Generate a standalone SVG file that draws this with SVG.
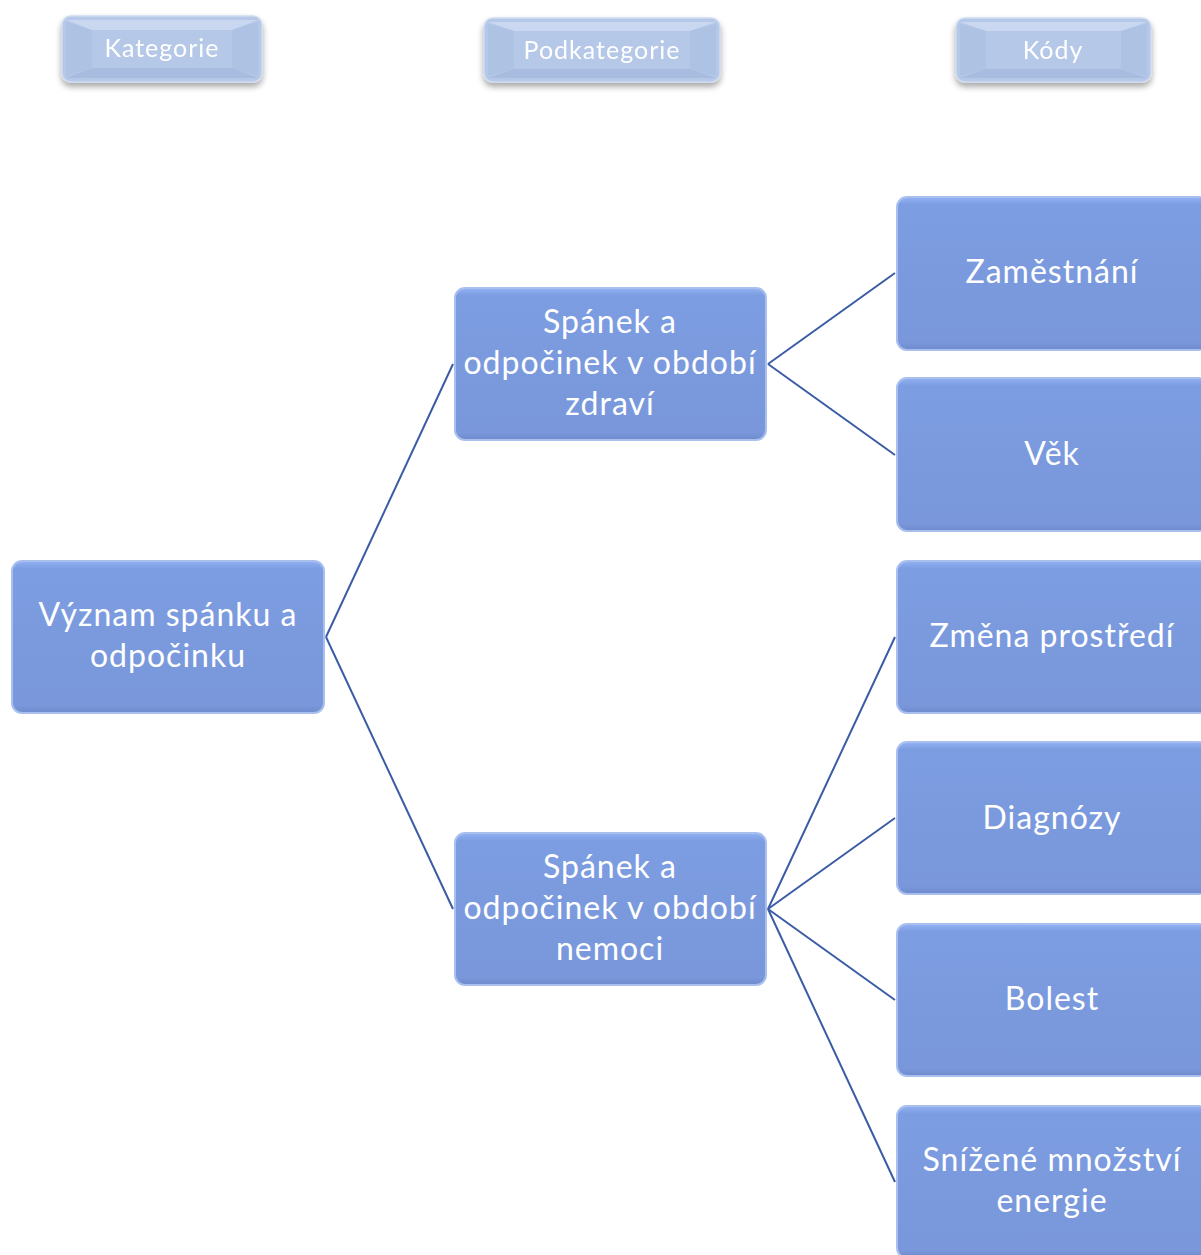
<svg xmlns="http://www.w3.org/2000/svg" width="1201" height="1255" viewBox="0 0 1201 1255">
<style>
.node rect.b{fill:url(#nodeFill);stroke:#a9c0ef;stroke-width:2}
.node text{font-family:Lato,"Open Sans",sans-serif;font-size:32px;letter-spacing:1px;fill:#ffffff;text-anchor:middle}
.hdr rect.b{fill:#b5c8e8;stroke:#cfdbef;stroke-width:1.5}
.hdr .top{fill:#c9d8f0}
.hdr .bot{fill:#a8bce0}
.hdr .side{fill:#aec2e4}
.hdr text{font-family:Lato,"Open Sans",sans-serif;font-size:25px;letter-spacing:1px;fill:#ffffff;text-anchor:middle}
#connectors line{stroke:#3b5ca5;stroke-width:2}
</style>
<defs>
<linearGradient id="nodeFill" x1="0" y1="0" x2="0" y2="1">
<stop offset="0" stop-color="#93b2f5"/>
<stop offset="0.05" stop-color="#7d9de2"/>
<stop offset="0.95" stop-color="#7997da"/>
<stop offset="1" stop-color="#6d8bcc"/>
</linearGradient>
<filter id="sh" x="-10%" y="-10%" width="120%" height="140%">
<feGaussianBlur in="SourceAlpha" stdDeviation="3"/>
<feOffset dy="4"/>
<feComponentTransfer><feFuncA type="linear" slope="0.35"/></feComponentTransfer>
<feMerge><feMergeNode/><feMergeNode in="SourceGraphic"/></feMerge>
</filter>
</defs>
<rect width="1201" height="1255" fill="#ffffff"/>

<g id="hdr-kategorie" class="hdr" filter="url(#sh)">
<rect class="b" x="62" y="16" width="200" height="66" rx="9"/>
<polygon class="top" points="66,20 258,20 232,30 92,30"/>
<polygon class="bot" points="66,78 258,78 232,68 92,68"/>
<polygon class="side" points="66,22 92,30 92,68 66,76"/>
<polygon class="side" points="258,22 232,30 232,68 258,76"/>
<text x="162" y="57">Kategorie</text>
</g>
<g id="hdr-podkategorie" class="hdr" filter="url(#sh)">
<rect class="b" x="484" y="18" width="236" height="64" rx="9"/>
<polygon class="top" points="488,22 716,22 690,31 514,31"/>
<polygon class="bot" points="488,78 716,78 690,69 514,69"/>
<polygon class="side" points="488,24 514,31 514,69 488,76"/>
<polygon class="side" points="716,24 690,31 690,69 716,76"/>
<text x="602" y="59">Podkategorie</text>
</g>
<g id="hdr-kody" class="hdr" filter="url(#sh)">
<rect class="b" x="956" y="18" width="195" height="64" rx="9"/>
<polygon class="top" points="960,22 1147,22 1121,31 986,31"/>
<polygon class="bot" points="960,78 1147,78 1121,69 986,69"/>
<polygon class="side" points="960,24 986,31 986,69 960,76"/>
<polygon class="side" points="1147,24 1121,31 1121,69 1147,76"/>
<text x="1053" y="59">Kódy</text>
</g>

<g id="connectors">
<line x1="326" y1="637" x2="453" y2="364"/>
<line x1="326" y1="637" x2="453" y2="909"/>
<line x1="768" y1="364" x2="895" y2="273"/>
<line x1="768" y1="364" x2="895" y2="455"/>
<line x1="768" y1="909" x2="895" y2="637"/>
<line x1="768" y1="909" x2="895" y2="818"/>
<line x1="768" y1="909" x2="895" y2="1000"/>
<line x1="768" y1="909" x2="895" y2="1182"/>
</g>

<g id="n-root" class="node">
<rect class="b" x="12" y="561" width="312" height="152" rx="10"/>
<text x="168" y="626">Význam spánku a</text>
<text x="168" y="667">odpočinku</text>
</g>
<g id="n-zdravi" class="node">
<rect class="b" x="455" y="288" width="311" height="152" rx="10"/>
<text x="610" y="333">Spánek a</text>
<text x="610" y="374">odpočinek v období</text>
<text x="610" y="415">zdraví</text>
</g>
<g id="n-nemoci" class="node">
<rect class="b" x="455" y="833" width="311" height="152" rx="10"/>
<text x="610" y="878">Spánek a</text>
<text x="610" y="919">odpočinek v období</text>
<text x="610" y="960">nemoci</text>
</g>
<g id="n-zamestnani" class="node">
<rect class="b" x="897" y="197" width="312" height="153" rx="10"/>
<text x="1052" y="283">Zaměstnání</text>
</g>
<g id="n-vek" class="node">
<rect class="b" x="897" y="378" width="312" height="153" rx="10"/>
<text x="1052" y="465">Věk</text>
</g>
<g id="n-zmena" class="node">
<rect class="b" x="897" y="561" width="312" height="152" rx="10"/>
<text x="1052" y="647">Změna prostředí</text>
</g>
<g id="n-diagnozy" class="node">
<rect class="b" x="897" y="742" width="312" height="152" rx="10"/>
<text x="1052" y="829">Diagnózy</text>
</g>
<g id="n-bolest" class="node">
<rect class="b" x="897" y="924" width="312" height="152" rx="10"/>
<text x="1052" y="1010">Bolest</text>
</g>
<g id="n-energie" class="node">
<rect class="b" x="897" y="1106" width="312" height="152" rx="10"/>
<text x="1052" y="1171">Snížené množství</text>
<text x="1052" y="1212">energie</text>
</g>
</svg>
